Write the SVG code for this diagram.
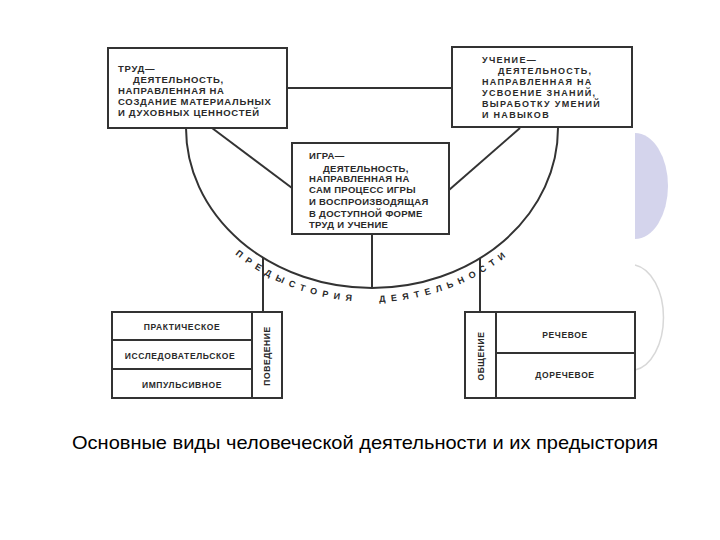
<svg xmlns="http://www.w3.org/2000/svg" width="720" height="540" viewBox="0 0 720 540">
<style>
.box{fill:#fff;stroke:#333;stroke-width:2}
.ln{fill:none;stroke:#333;stroke-width:2}
.t{font-family:"Liberation Sans",Arial,sans-serif;font-weight:bold;fill:#2a2a2a}
.tl{font-size:9.5px;letter-spacing:0.7px}
.tr{font-size:9px;letter-spacing:1.3px}
.tc{font-size:9.5px;letter-spacing:0.3px}
.tb{font-size:8.5px;letter-spacing:0.6px}
.arc{font-size:9px;letter-spacing:5.6px;word-spacing:14px}
.cap{font-family:"Liberation Sans",Arial,sans-serif;font-size:19px;fill:#000}
</style>
<defs>
<path id="arcText" d="M199.7,215 A199,174 0 0 0 559,187.5"/>
</defs>
<rect width="720" height="540" fill="#fff"/>
<g id="decor">
<path d="M635,133 A33,53 0 0 1 635,239 Z" fill="#d4d4ec"/>
<path d="M635,265 A33,53 0 0 1 635,370" fill="none" stroke="#d8d8d8" stroke-width="1.5"/>
</g>
<g id="connectors">
<line class="ln" x1="287" y1="88" x2="452" y2="88"/>
<path class="ln" d="M186,128 A186,160 0 0 0 558,128"/>
<line class="ln" x1="212" y1="128" x2="292" y2="188"/>
<line class="ln" x1="520" y1="128" x2="449" y2="190"/>
<line class="ln" x1="372" y1="234" x2="372" y2="288"/>
<line class="ln" x1="263" y1="258" x2="263" y2="312"/>
<line class="ln" x1="480" y1="258" x2="480" y2="312"/>
</g>
<g id="arc-label">
<text class="t arc"><textPath href="#arcText" startOffset="53">ПРЕДЫСТОРИЯ ДЕЯТЕЛЬНОСТИ</textPath></text>
</g>
<g id="trud">
<rect class="box" x="108" y="48" width="179" height="80"/>
<text class="t tl" x="118" y="71.5">ТРУД—</text>
<text class="t tl" x="133" y="82.5">ДЕЯТЕЛЬНОСТЬ,</text>
<text class="t tl" x="118" y="93.5">НАПРАВЛЕННАЯ НА</text>
<text class="t tl" x="118" y="105">СОЗДАНИЕ МАТЕРИАЛЬНЫХ</text>
<text class="t tl" x="118" y="116">И ДУХОВНЫХ ЦЕННОСТЕЙ</text>
</g>
<g id="uchenie">
<rect class="box" x="452" y="47" width="180" height="80"/>
<text class="t tr" x="482" y="62.5">УЧЕНИЕ—</text>
<text class="t tr" x="498" y="73.5">ДЕЯТЕЛЬНОСТЬ,</text>
<text class="t tr" x="482" y="85">НАПРАВЛЕННАЯ НА</text>
<text class="t tr" x="482" y="95.5">УСВОЕНИЕ ЗНАНИЙ,</text>
<text class="t tr" x="482" y="106.5">ВЫРАБОТКУ УМЕНИЙ</text>
<text class="t tr" x="482" y="117.5">И НАВЫКОВ</text>
</g>
<g id="igra">
<rect class="box" x="292" y="143" width="157" height="91"/>
<text class="t tc" x="309" y="158.5">ИГРА—</text>
<text class="t tc" x="323" y="171.5">ДЕЯТЕЛЬНОСТЬ,</text>
<text class="t tc" x="309" y="181.5">НАПРАВЛЕННАЯ НА</text>
<text class="t tc" x="309" y="192.5">САМ ПРОЦЕСС ИГРЫ</text>
<text class="t tc" x="309" y="204.5">И ВОСПРОИЗВОДЯЩАЯ</text>
<text class="t tc" x="309" y="216.5">В ДОСТУПНОЙ ФОРМЕ</text>
<text class="t tc" x="309" y="227.5">ТРУД И УЧЕНИЕ</text>
</g>
<g id="povedenie">
<rect class="box" x="112" y="312" width="170" height="86"/>
<line class="ln" x1="252" y1="312" x2="252" y2="398"/>
<line class="ln" x1="112" y1="340" x2="252" y2="340"/>
<line class="ln" x1="112" y1="369" x2="252" y2="369"/>
<text class="t tb" x="182" y="329.5" text-anchor="middle">ПРАКТИЧЕСКОЕ</text>
<text class="t tb" x="180" y="358.5" text-anchor="middle">ИССЛЕДОВАТЕЛЬСКОЕ</text>
<text class="t tb" x="182" y="387.5" text-anchor="middle">ИМПУЛЬСИВНОЕ</text>
<text class="t tb" transform="translate(270,356) rotate(-90)" text-anchor="middle">ПОВЕДЕНИЕ</text>
</g>
<g id="obshchenie">
<rect class="box" x="465" y="312" width="170" height="86"/>
<line class="ln" x1="496" y1="312" x2="496" y2="398"/>
<line class="ln" x1="496" y1="353" x2="635" y2="353"/>
<text class="t tb" x="565" y="337.5" text-anchor="middle">РЕЧЕВОЕ</text>
<text class="t tb" x="565" y="377.5" text-anchor="middle">ДОРЕЧЕВОЕ</text>
<text class="t tb" transform="translate(484,356) rotate(-90)" text-anchor="middle">ОБЩЕНИЕ</text>
</g>
<g id="caption">
<text class="cap" x="72" y="449" textLength="586" lengthAdjust="spacingAndGlyphs">Основные виды человеческой деятельности и их предыстория</text>
</g>
</svg>
